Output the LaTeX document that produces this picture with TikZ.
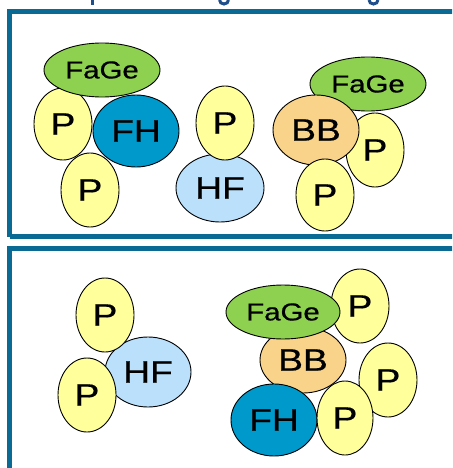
\documentclass[tikz,border=0pt]{standalone}
\usepackage{fontspec}
\usetikzlibrary{shapes.geometric}
\newfontfamily\lblfont[FakeStretch=1.2, FakeBold=0.6]{Liberation Sans}
\definecolor{frameblue}{HTML}{0A6A94}
\definecolor{titleblue}{HTML}{1F4E8C}
\definecolor{pyellow}{HTML}{FFFF9C}
\definecolor{fagegreen}{HTML}{8ED050}
\definecolor{fhblue}{HTML}{0099CC}
\definecolor{hfblue}{HTML}{BAE0FB}
\definecolor{bborange}{HTML}{F8D389}
\tikzset{
  blob/.style={ellipse, draw=black, line width=0.9pt, inner sep=0pt},
  pblob/.style={blob, fill=pyellow, minimum width=58pt, minimum height=74pt,
    font=\lblfont\fontsize{31}{31}\selectfont},
  fage/.style={blob, fill=fagegreen, minimum width=116pt, minimum height=54pt,
    font=\lblfont\fontsize{24.5}{24.5}\selectfont},
  fh/.style={blob, fill=fhblue, minimum width=86pt, minimum height=72pt,
    font=\lblfont\fontsize{31}{31}\selectfont},
  hf/.style={blob, fill=hfblue, minimum width=88pt, minimum height=68pt,
    font=\lblfont\fontsize{31}{31}\selectfont},
  bb/.style={blob, fill=bborange, minimum width=86pt, minimum height=70pt,
    font=\lblfont\fontsize{31}{31}\selectfont},
  panel/.style={draw=frameblue, line width=5pt}
}
\begin{document}
\begin{tikzpicture}[x=1pt, y=-1pt]
\useasboundingbox (0,0) rectangle (452,468);
\clip (0,0) rectangle (452,468);
\fill[white] (0,0) rectangle (452,468);

% descenders of the heading line above the panels
\fill[titleblue] (90.7,-2) rectangle (94,5);
\draw[titleblue, line width=3pt] (219.5,0) arc[start angle=180, end angle=360, x radius=4.5pt, y radius=4pt];
\draw[titleblue, line width=3pt] (369,0) arc[start angle=180, end angle=360, x radius=4.5pt, y radius=4pt];

% panel frames
\draw[panel] (9.5,236.5) -- (9.5,11.5) -- (470,11.5);
\draw[panel] (9.5,236.5) -- (470,236.5);
\draw[panel] (9.5,480) -- (9.5,248.5) -- (470,248.5);

% ---- upper panel ----
% left complex
\node[pblob, minimum height=72pt] (ua1) at (63,124) {P};
\node[pblob] (ua2) at (90,190) {P};
\node[fh] (ufh) at (136,131) {FH};
\node[fage] (ufage1) at (102,70) {FaGe};
% middle complex
\node[hf] (uhf) at (220,188) {HF};
\node[pblob] (ub1) at (225,123) {P};
% right complex
\node[fage] (ufage2) at (368,84) {FaGe};
\node[pblob] (uc1) at (375,150) {P};
\node[bb] (ubb) at (316,130) {BB};
\node[pblob, minimum height=72pt] (uc2) at (325,195) {P};

% ---- lower panel ----
% left complex
\node[hf, minimum width=86pt, minimum height=70pt] (lhf) at (148,372) {HF};
\node[pblob] (la1) at (105,315) {P};
\node[pblob] (la2) at (87,395) {P};
% right complex
\node[pblob] (lc1) at (360,306) {P};
\node[bb, minimum height=66pt] (lbb) at (303,360) {BB};
\node[fage, minimum width=114pt] (lfage) at (283,312) {FaGe};
\node[pblob] (lc2) at (388,380) {P};
\node[fh] (lfh) at (274,420) {FH};
\node[pblob, minimum width=56pt] (lc3) at (345,418) {P};
\end{tikzpicture}
\end{document}
